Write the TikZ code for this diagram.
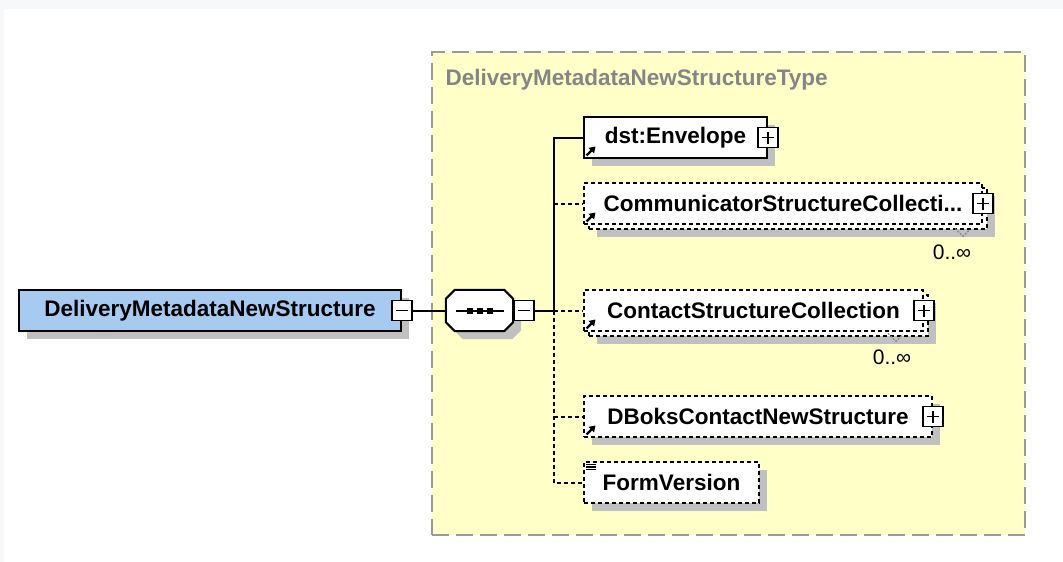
\documentclass[tikz,border=0pt]{standalone}
\usepackage{fontspec}
\setmainfont{Liberation Sans}
\usetikzlibrary{shadows,arrows.meta}

\definecolor{typeyellow}{HTML}{FFFFC8}
\definecolor{elemblue}{HTML}{A6CAF0}
\definecolor{shadowgray}{HTML}{C0C0C0}
\definecolor{framegray}{HTML}{999999}
\definecolor{titlegray}{HTML}{858585}
\definecolor{pagegray}{HTML}{F7F8FA}

\tikzstyle{element} = [rectangle, draw, fill=white, line width=2pt,
    minimum height=41pt, inner sep=0pt, font=\fontsize{22.5}{26}\selectfont\bfseries,
    drop shadow={shadow xshift=8pt, shadow yshift=-8pt, fill=shadowgray, opacity=1}]
\tikzstyle{optional} = [element, dash pattern=on 4pt off 3pt]
\tikzstyle{multiple} = [rectangle, draw, fill=white, line width=2pt,
    minimum height=41pt, inner sep=0pt, font=\fontsize{22.5}{26}\selectfont\bfseries,
    dash pattern=on 4pt off 3pt,
    drop shadow={shadow xshift=13pt, shadow yshift=-13pt, fill=shadowgray, opacity=1},
    copy shadow={shadow xshift=5pt, shadow yshift=-5pt, fill=white, draw=black, dash pattern=on 4pt off 3pt}]
\tikzstyle{expander} = [rectangle, draw, fill=white, line width=1.6pt, minimum size=20pt, inner sep=0pt]
\tikzstyle{minus} = [expander, path picture={
    \draw[line width=1.5pt] ([xshift=4pt]path picture bounding box.west) -- ([xshift=-4pt]path picture bounding box.east);}]
\tikzstyle{plus} = [expander, path picture={
    \draw[line width=1.5pt] ([xshift=4pt]path picture bounding box.west) -- ([xshift=-4pt]path picture bounding box.east);
    \draw[line width=1.5pt] ([yshift=4pt]path picture bounding box.south) -- ([yshift=-4pt]path picture bounding box.north);}]
\tikzstyle{conn} = [line width=2pt]
\tikzstyle{optconn} = [conn, dash pattern=on 4pt off 3pt]
\tikzstyle{refmark} = [line width=2.4pt, -{Triangle[length=6pt,width=7.5pt]}]
\tikzstyle{occurs} = [font=\fontsize{21}{24}\selectfont, inner sep=0pt]
\tikzstyle{occtick} = [line width=1pt, gray, dash pattern=on 2pt off 1.5pt]

\begin{document}
\begin{tikzpicture}[x=1pt, y=-1pt]
    \useasboundingbox (0,0) rectangle (1063,562);
    \fill[pagegray] (0,0) rectangle (1063,562);
    \fill[white] (4,9) rectangle (1063,562);

    % Place type box
    \node [rectangle, draw=framegray, fill=typeyellow, line width=2pt, dash pattern=on 17pt off 7pt,
        minimum width=593pt, minimum height=483pt] (typebox) at (728.5,293.5) {};
    \node [anchor=west, text=titlegray, font=\fontsize{22.5}{26}\selectfont\bfseries] (typename) at (442,80)
        {DeliveryMetadataNewStructureType};

    % Place nodes
    \node [element, fill=elemblue, minimum width=382pt] (root) at (210,310.5) {DeliveryMetadataNewStructure};
    \node [minus] (rootx) at (root.east) {};

    % sequence compositor
    \node [minimum width=67pt, minimum height=41pt, inner sep=0pt] (seq) at (479.5,310.5) {};
    \draw [conn, fill=white, drop shadow={shadow xshift=8pt, shadow yshift=-8pt, fill=shadowgray, opacity=1}]
        ([xshift=9pt]seq.north west) -- ([xshift=-9pt]seq.north east) -- ([yshift=-9pt]seq.north east)
        -- ([yshift=9pt]seq.south east) -- ([xshift=-9pt]seq.south east) -- ([xshift=9pt]seq.south west)
        -- ([yshift=9pt]seq.south west) -- ([yshift=-9pt]seq.north west) -- cycle;
    \node [minus, anchor=west] (seqx) at (seq.east) {};
    \draw [conn] ([xshift=-24pt]seq.center) -- ([xshift=24pt]seq.center);
    \foreach \dx in {-10,0,10}
        \fill ([xshift=\dx pt]seq.center) +(-3,-3) rectangle +(3,3);

    \node [element, minimum width=183pt] (env) at (675.5,137.5) {dst:Envelope};
    \node [multiple, minimum width=398pt] (comm) at (783,203.5) {CommunicatorStructureCollecti...};
    \node [multiple, minimum width=339pt] (cont) at (753.5,310.5) {ContactStructureCollection};
    \node [optional, minimum width=348pt] (dbok) at (758,416.5) {DBoksContactNewStructure};
    \node [optional, minimum width=175pt] (form) at (671.5,482.5) {FormVersion};

    \node [plus] (envx) at (env.east) {};
    \node [plus] (commx) at (comm.east) {};
    \node [plus] (contx) at (cont.east) {};
    \node [plus] (dbokx) at (dbok.east) {};

    % reference marks and simple type mark
    \foreach \el in {env,comm,cont,dbok}
        \draw [refmark] ([shift={(3.5pt,3.5pt)}]\el.south west) -- ++(9pt,9pt);
    \foreach \dy in {3.5,6,8.5}
        \draw [line width=1.1pt] ([shift={(3pt,-\dy pt)}]form.north west) -- ++(10pt,0pt);

    % occurrences
    \node [occurs] (commocc) at (952,252) {0..∞};
    \node [occurs] (contocc) at (892,357) {0..∞};
    \draw [occtick] ([shift={(3pt,16pt)}]commocc.north) -- ++(8pt,-8pt) -- ++(7pt,7pt);
    \draw [occtick] ([shift={(-4pt,16pt)}]contocc.north) -- ++(8pt,-8pt) -- ++(7pt,7pt);

    % Connectors
    \coordinate (bus) at (554,310.5);
    \draw [conn] (rootx.east) -- (seq.west);
    \draw [conn] (seqx.east) -- (bus);
    \draw [conn] (bus) |- (env.west);
    \draw [optconn] (bus |- comm.west) -- (comm.west);
    \draw [optconn] (bus) -- (cont.west);
    \draw [optconn] (bus |- dbok.west) -- (dbok.west);
    \draw [optconn] (bus) |- (form.west);

\end{tikzpicture}
\end{document}
